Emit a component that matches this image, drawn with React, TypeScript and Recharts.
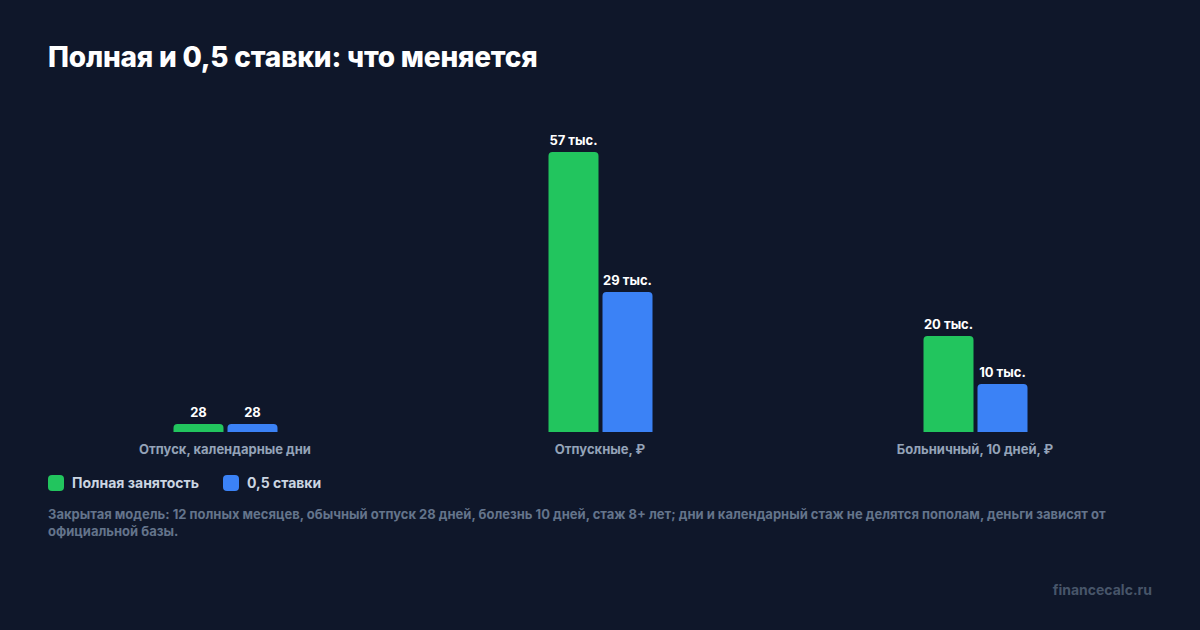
import { Bar, BarChart, LabelList, XAxis, YAxis } from "recharts";

const categories = ["Отпуск, календарные дни", "Отпускные, ₽", "Больничный, 10 дней, ₽"];
const fullTime = [28, 57000, 19540];
const halfRate = [28, 28500, 9770];
const seriesNames = ["Полная занятость", "0,5 ставки"];

const data = categories.map((name, i) => ({ name, full: fullTime[i], half: halfRate[i] }));

const GREEN = "#22c55e";
const BLUE = "#3b82f6";
const BG = "#0f172a";

function fmt(v: any) {
  const n = Number(v);
  return n < 1000 ? String(n) : `${Math.round(n / 1000)} тыс.`;
}

// label above the bar, no wrapping
function TopLabel(props: any) {
  const { x, y, width, value } = props;
  return (
    <text x={Number(x) + Number(width) / 2} y={Number(y) - 7} textAnchor="middle" fill="#ffffff" fontSize={13} fontWeight={700}>
      {fmt(value)}
    </text>
  );
}

export default function App() {
  return (
    <div
      style={{
        position: "absolute",
        left: 0,
        top: 0,
        width: 1200,
        height: 630,
        background: BG,
        fontFamily: "Inter, 'Noto Sans', sans-serif",
        overflow: "hidden",
      }}
    >
      <div style={{ position: "absolute", left: 48, top: 40, color: "#fff", fontSize: 28, fontWeight: 800, letterSpacing: -0.2 }}>
        Полная и 0,5 ставки: что меняется
      </div>

      <div style={{ position: "absolute", left: 0, top: 0 }}>
        <BarChart
          width={1200}
          height={470}
          data={data}
          margin={{ top: 152, right: 37.5, bottom: 8, left: 37.5 }}
          barSize={50}
          barGap={4}
        >
          <XAxis
            dataKey="name"
            axisLine={false}
            tickLine={false}
            tickMargin={7}
            height={30}
            tick={{ fill: "#94a3b8", fontSize: 13, fontWeight: 700 }}
            interval={0}
          />
          <YAxis hide domain={[0, 57000]} />
          <Bar dataKey="full" name={seriesNames[0]} fill={GREEN} radius={[4, 4, 0, 0]} minPointSize={8} isAnimationActive={false}>
            <LabelList dataKey="full" content={TopLabel} />
          </Bar>
          <Bar dataKey="half" name={seriesNames[1]} fill={BLUE} radius={[4, 4, 0, 0]} minPointSize={8} isAnimationActive={false}>
            <LabelList dataKey="half" content={TopLabel} />
          </Bar>
        </BarChart>
      </div>

      <div style={{ position: "absolute", left: 48, top: 474, display: "flex", alignItems: "center", gap: 24 }}>
        {[GREEN, BLUE].map((c, i) => (
          <div key={i} style={{ display: "flex", alignItems: "center", gap: 8 }}>
            <div style={{ width: 16, height: 16, borderRadius: 4, background: c }} />
            <span style={{ color: "#cbd5e1", fontSize: 14, fontWeight: 700 }}>{seriesNames[i]}</span>
          </div>
        ))}
      </div>

      <div style={{ position: "absolute", left: 48, top: 506, width: 1104, color: "#64748b", fontSize: 13, fontWeight: 700, lineHeight: "17px" }}>
        Закрытая модель: 12 полных месяцев, обычный отпуск 28 дней, болезнь 10 дней, стаж 8+ лет; дни и календарный стаж не делятся пополам, деньги зависят от официальной базы.
      </div>

      <div style={{ position: "absolute", right: 48, top: 581, color: "#475569", fontSize: 14, fontWeight: 700 }}>
        financecalc.ru
      </div>
    </div>
  );
}
